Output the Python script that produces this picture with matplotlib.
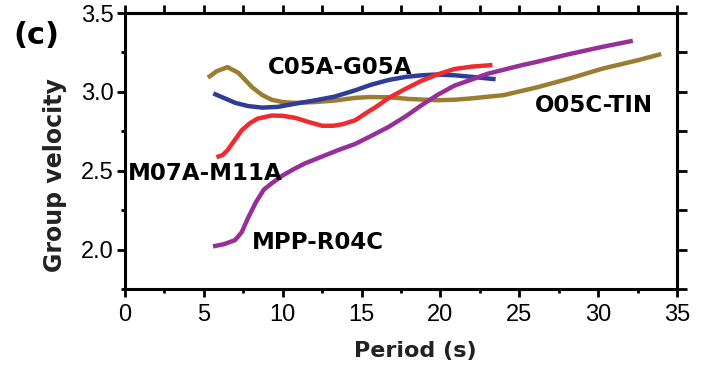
import numpy as np
import matplotlib
matplotlib.use("Agg")
import matplotlib.pyplot as plt
from matplotlib.ticker import MultipleLocator

# Group velocity dispersion curves
# O05C-TIN (brown)
p_tin = [5.26, 5.8, 6.5, 7.2, 8.05, 8.7, 9.3, 10.0, 10.8, 12.0, 13.3, 14.6, 15.5, 16.7,
         18.0, 19.8, 20.9, 21.9, 24.0, 26.1, 28.2, 30.3, 32.5, 34.0]
v_tin = [3.09, 3.13, 3.157, 3.12, 3.03, 2.98, 2.95, 2.935, 2.93, 2.935, 2.945, 2.962, 2.967, 2.966,
         2.955, 2.947, 2.95, 2.958, 2.979, 3.028, 3.085, 3.148, 3.20, 3.24]

# C05A-G05A (blue)
p_g05 = [5.6, 6.3, 7.0, 7.8, 8.7, 9.7, 10.8, 12.0, 13.3, 14.6, 15.6, 16.7, 17.8, 18.8,
         19.8, 20.9, 22.0, 23.5]
v_g05 = [2.99, 2.96, 2.93, 2.91, 2.90, 2.905, 2.925, 2.945, 2.97, 3.01, 3.045, 3.075, 3.095, 3.105,
         3.11, 3.105, 3.095, 3.08]

# M07A-M11A (red)
p_m11 = [5.8, 6.2, 6.5, 7.0, 7.4, 7.9, 8.4, 9.3, 10.0, 10.8, 11.6, 12.5, 13.2, 13.8, 14.6,
         15.2, 16.0, 16.7, 17.8, 18.8, 19.8, 20.9, 22.0, 23.3]
v_m11 = [2.585, 2.60, 2.63, 2.70, 2.756, 2.80, 2.83, 2.85, 2.848, 2.835, 2.81, 2.785, 2.785, 2.795, 2.82,
         2.86, 2.91, 2.96, 3.02, 3.07, 3.11, 3.145, 3.16, 3.17]

# MPP-R04C (purple)
p_r04 = [5.58, 6.3, 6.98, 7.4, 7.8, 8.3, 8.8, 9.3, 10.0, 10.7, 11.4, 12.5, 13.5, 14.6, 15.6,
         16.7, 17.8, 18.8, 19.8, 20.9, 21.9, 23.0, 24.0, 25.2, 26.1, 28.2, 30.3, 32.2]
v_r04 = [2.02, 2.035, 2.06, 2.11, 2.20, 2.30, 2.38, 2.42, 2.47, 2.51, 2.546, 2.59, 2.63, 2.67, 2.72,
         2.777, 2.845, 2.915, 2.98, 3.04, 3.075, 3.115, 3.14, 3.17, 3.19, 3.24, 3.286, 3.324]

fig = plt.figure(figsize=(7.15, 3.7), dpi=100)
ax = fig.add_axes([125/715, 1 - 289/370, 552/715, 276/370])

lw = 3.2
for p, v, c in [(p_tin, v_tin, "#9c7c30"), (p_g05, v_g05, "#2f3d99"),
                (p_m11, v_m11, "#ee2b30"), (p_r04, v_r04, "#972f99")]:
    ax.plot(p, v, color=c, lw=lw, solid_capstyle="butt", solid_joinstyle="round")

ax.set_xlim(0, 35)
ax.set_ylim(1.75, 3.5)

# thick spines, ticks pointing out on all four sides
for s in ax.spines.values():
    s.set_linewidth(2.2)

ax.xaxis.set_major_locator(MultipleLocator(5))
ax.xaxis.set_minor_locator(MultipleLocator(2.5))
ax.yaxis.set_minor_locator(MultipleLocator(0.25))
ax.set_yticks([2.0, 2.5, 3.0, 3.5])
ax.set_yticklabels(["2.0", "2.5", "3.0", "3.5"])

ax.tick_params(which="both", direction="out", width=2)
ax.tick_params(which="major", length=6)
ax.tick_params(which="minor", length=3)
ax.tick_params(axis="x", which="major", pad=5)
ax.tick_params(axis="y", which="major", pad=2)

# ticks on top / right edge all same length, no labels
sec_x = ax.secondary_xaxis("top")
sec_x.xaxis.set_major_locator(MultipleLocator(2.5))
sec_x.tick_params(direction="out", length=6, width=2, labeltop=False)
sec_x.spines["top"].set_linewidth(2.2)
sec_y = ax.secondary_yaxis("right")
sec_y.yaxis.set_major_locator(MultipleLocator(0.25))
sec_y.tick_params(direction="out", length=7, width=2, labelright=False)
sec_y.spines["right"].set_linewidth(2.2)

for lab in ax.get_xticklabels() + ax.get_yticklabels():
    lab.set_family("Liberation Sans")
    lab.set_fontsize(17)

bold = dict(family="DejaVu Sans", fontweight="bold", fontsize=16.5, color="black")
ax.text(9.07, 3.153, "C05A-G05A", ha="left", va="center", **bold)
ax.text(0.19, 2.483, "M07A-M11A", ha="left", va="center", **bold)
ax.text(8.05, 2.044, "MPP-R04C", ha="left", va="center", **bold)
ax.text(26.0, 2.915, "O05C-TIN", ha="left", va="center", **bold)

fig.text(13/715, 1 - 35/370, "(c)", ha="left", va="center",
         family="DejaVu Sans", fontweight="bold", fontsize=22)
fig.text(55/715, 1 - 175/370, "Group velocity", rotation=90, ha="center", va="center",
         family="DejaVu Sans", fontweight="bold", fontsize=17, color="#222222")
fig.text(415/715, 1 - 351/370, "Period (s)", ha="center", va="center",
         family="DejaVu Sans", fontweight="bold", fontsize=16, color="#222222")

fig.savefig("out.png", dpi=100)
